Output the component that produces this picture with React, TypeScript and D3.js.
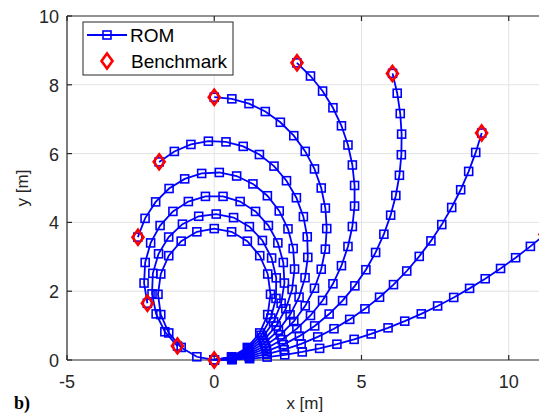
import React from "react";
import * as d3 from "d3";

type P = [number, number];

const rom1: P[] = [[0,0],[0.600,0.009],[1.199,0.038],[1.797,0.085],[2.394,0.151],[2.988,0.235],[3.579,0.338],[4.166,0.460],[4.750,0.600],[5.328,0.758],[5.902,0.935],[6.469,1.129],[7.031,1.341],[7.585,1.571],[8.132,1.818],[8.671,2.082],[9.201,2.362],[9.722,2.660],[10.234,2.973],[10.735,3.303],[11.226,3.647]];
const rom2: P[] = [[0,0],[0.600,0.019],[1.197,0.075],[1.789,0.169],[2.375,0.300],[2.951,0.467],[3.515,0.671],[4.066,0.909],[4.600,1.181],[5.117,1.487],[5.613,1.824],[6.087,2.191],[6.537,2.587],[6.961,3.012],[7.358,3.462],[7.726,3.936],[8.063,4.433],[8.368,4.949],[8.640,5.483],[8.879,6.034],[9.082,6.598]];
const rom3: P[] = [[0,0],[0.599,0.028],[1.193,0.113],[1.776,0.253],[2.344,0.447],[2.890,0.694],[3.411,0.991],[3.902,1.336],[4.358,1.725],[4.775,2.156],[5.150,2.624],[5.480,3.126],[5.760,3.656],[5.990,4.210],[6.166,4.783],[6.288,5.370],[6.354,5.967],[6.363,6.566],[6.316,7.164],[6.213,7.755],[6.055,8.333]];
const rom4: P[] = [[0,0],[0.598,0.038],[1.187,0.150],[1.758,0.335],[2.300,0.591],[2.806,0.912],[3.268,1.294],[3.679,1.731],[4.031,2.216],[4.320,2.742],[4.541,3.299],[4.690,3.880],[4.765,4.475],[4.765,5.074],[4.690,5.669],[4.541,6.250],[4.320,6.808],[4.031,7.333],[3.679,7.818],[3.268,8.256],[2.806,8.637]];
const rom5: P[] = [[0,0],[0.598,0.047],[1.180,0.187],[1.734,0.416],[2.245,0.730],[2.701,1.119],[3.090,1.575],[3.403,2.086],[3.633,2.639],[3.773,3.222],[3.820,3.820],[3.773,4.417],[3.633,5.000],[3.403,5.554],[3.090,6.065],[2.701,6.521],[2.245,6.910],[1.734,7.223],[1.180,7.453],[0.598,7.592],[0.000,7.639]];
const rom6: P[] = [[0,0],[0.597,0.056],[1.172,0.224],[1.706,0.496],[2.179,0.863],[2.575,1.312],[2.880,1.828],[3.083,2.392],[3.177,2.983],[3.158,3.582],[3.027,4.167],[2.789,4.717],[2.453,5.212],[2.029,5.636],[1.534,5.973],[0.984,6.210],[0.399,6.341],[-0.200,6.360],[-0.792,6.266],[-1.355,6.063],[-1.871,5.758]];
const rom7: P[] = [[0,0],[0.595,0.066],[1.162,0.260],[1.672,0.573],[2.102,0.989],[2.431,1.490],[2.643,2.050],[2.727,2.643],[2.680,3.240],[2.504,3.812],[2.207,4.332],[1.804,4.775],[1.314,5.119],[0.761,5.349],[0.171,5.451],[-0.427,5.423],[-1.004,5.265],[-1.534,4.985],[-1.989,4.596],[-2.349,4.117],[-2.595,3.572]];
const rom8: P[] = [[0,0],[0.594,0.075],[1.150,0.295],[1.634,0.647],[2.016,1.108],[2.271,1.650],[2.383,2.237],[2.345,2.835],[2.160,3.404],[1.839,3.909],[1.403,4.319],[0.879,4.607],[0.299,4.756],[-0.299,4.756],[-0.879,4.607],[-1.403,4.319],[-1.839,3.909],[-2.160,3.404],[-2.345,2.835],[-2.383,2.237],[-2.271,1.650]];
const rom9: P[] = [[0,0],[0.592,0.084],[1.137,0.330],[1.592,0.719],[1.920,1.219],[2.096,1.790],[2.105,2.388],[1.948,2.965],[1.635,3.475],[1.193,3.877],[0.656,4.140],[0.067,4.243],[-0.528,4.178],[-1.080,3.949],[-1.547,3.575],[-1.891,3.086],[-2.085,2.520],[-2.113,1.922],[-1.973,1.341],[-1.677,0.821],[-1.247,0.405]];
const rom10: P[] = [[0,0],[0.590,0.094],[1.123,0.365],[1.545,0.787],[1.816,1.320],[1.910,1.910],[1.816,2.500],[1.545,3.033],[1.123,3.455],[0.590,3.726],[0.000,3.820],[-0.590,3.726],[-1.123,3.455],[-1.545,3.033],[-1.816,2.500],[-1.910,1.910],[-1.816,1.320],[-1.545,0.787],[-1.123,0.365],[-0.590,0.094],[0.000,0.000]];

const benchX: number[] = [11.23, 9.08, 6.05, 2.81, 0.0, -1.87, -2.59, -2.27, -1.25, 0.0];
const benchY: number[] = [3.65, 6.60, 8.33, 8.64, 7.64, 5.76, 3.57, 1.65, 0.41, 0.0];

const xTicks: number[] = [-5, 0, 5, 10];
const yTicks: number[] = [0, 2, 4, 6, 8, 10];
const legendLabels: string[] = ["ROM", "Benchmark"];

const W = 539;
const H = 415;
const left = 67;
const right = 542.6;
const top = 16;
const bottom = 360;

const FONT = "'Liberation Sans', Arial, Helvetica, sans-serif";
const AX = "#262626";
const BLUE = "#0000ff";
const RED = "#ff0000";

export default function App() {
  const x = d3.scaleLinear().domain([-5, 11.15]).range([left, right]);
  const y = d3.scaleLinear().domain([0, 10]).range([bottom, top]);
  const curves = [rom1, rom2, rom3, rom4, rom5, rom6, rom7, rom8, rom9, rom10];
  const line = d3.line<P>().x((d) => x(d[0])).y((d) => y(d[1]));
  const sq = 8;
  const diamond = (cx: number, cy: number) =>
    `M${cx},${cy - 7.5}L${cx + 5.5},${cy}L${cx},${cy + 7.5}L${cx - 5.5},${cy}Z`;

  return (
    <svg width={W} height={H} style={{ position: "absolute", left: 0, top: 0, background: "#fff" }}>
      <rect x={0} y={0} width={W} height={H} fill="#fff" />
      {/* grid */}
      {xTicks.filter((t) => t !== -5).map((t) => (
        <line key={"gx" + t} x1={x(t)} x2={x(t)} y1={top} y2={bottom} stroke="#e3e3e3" strokeWidth={1} />
      ))}
      {yTicks.filter((t) => t !== 0 && t !== 10).map((t) => (
        <line key={"gy" + t} x1={left} x2={W} y1={y(t)} y2={y(t)} stroke="#e3e3e3" strokeWidth={1} />
      ))}
      {/* axes box */}
      <line x1={left} x2={W} y1={top} y2={top} stroke={AX} strokeWidth={1.2} />
      <line x1={left} x2={W} y1={bottom} y2={bottom} stroke={AX} strokeWidth={1.2} />
      <line x1={left} x2={left} y1={top} y2={bottom} stroke={AX} strokeWidth={1.2} />
      {xTicks.map((t) => (
        <g key={"tx" + t}>
          <line x1={x(t)} x2={x(t)} y1={bottom} y2={bottom - 5} stroke={AX} strokeWidth={1.2} />
          <line x1={x(t)} x2={x(t)} y1={top} y2={top + 5} stroke={AX} strokeWidth={1.2} />
          <text x={x(t)} y={bottom + 28} textAnchor="middle" fontFamily={FONT} fontSize={18} fill={AX}>
            {t}
          </text>
        </g>
      ))}
      {yTicks.map((t) => (
        <g key={"ty" + t}>
          <line x1={left} x2={left + 5} y1={y(t)} y2={y(t)} stroke={AX} strokeWidth={1.2} />
          <text x={left - 8} y={y(t) + 7} textAnchor="end" fontFamily={FONT} fontSize={18} fill={AX}>
            {t}
          </text>
        </g>
      ))}
      <text x={(left + right) / 2} y={409} textAnchor="middle" fontFamily={FONT} fontSize={17} fill={AX}>
        x [m]
      </text>
      <text
        transform={`translate(28,${(top + bottom) / 2}) rotate(-90)`}
        textAnchor="middle"
        fontFamily={FONT}
        fontSize={17}
        fill={AX}
      >
        y [m]
      </text>
      <text x={14} y={409} fontFamily="'Liberation Serif', 'Times New Roman', serif" fontWeight="bold" fontSize={18} fill="#000">
        b)
      </text>
      {/* ROM curves */}
      {curves.map((c, i) => (
        <g key={"c" + i}>
          <path d={line(c) || ""} fill="none" stroke={BLUE} strokeWidth={1.8} />
          {c.map((p, j) => (
            <rect
              key={j}
              x={x(p[0]) - sq / 2}
              y={y(p[1]) - sq / 2}
              width={sq}
              height={sq}
              fill="none"
              stroke={BLUE}
              strokeWidth={1.6}
            />
          ))}
        </g>
      ))}
      {/* Benchmark */}
      {benchX.map((bx, i) => (
        <path key={"b" + i} d={diamond(x(bx), y(benchY[i]))} fill="none" stroke={RED} strokeWidth={2.6} />
      ))}
      {/* legend */}
      <g>
        <rect x={83} y={22} width={150} height={53} fill="#fff" stroke={AX} strokeWidth={1} />
        <line x1={87} x2={127} y1={35} y2={35} stroke={BLUE} strokeWidth={1.8} />
        <rect x={107 - sq / 2} y={35 - sq / 2} width={sq} height={sq} fill="none" stroke={BLUE} strokeWidth={1.6} />
        <text x={130} y={42} fontFamily={FONT} fontSize={19} fill="#000">
          {legendLabels[0]}
        </text>
        <path d={diamond(107, 61)} fill="none" stroke={RED} strokeWidth={2.6} />
        <text x={131} y={68} fontFamily={FONT} fontSize={19} fill="#000">
          {legendLabels[1]}
        </text>
      </g>
    </svg>
  );
}
